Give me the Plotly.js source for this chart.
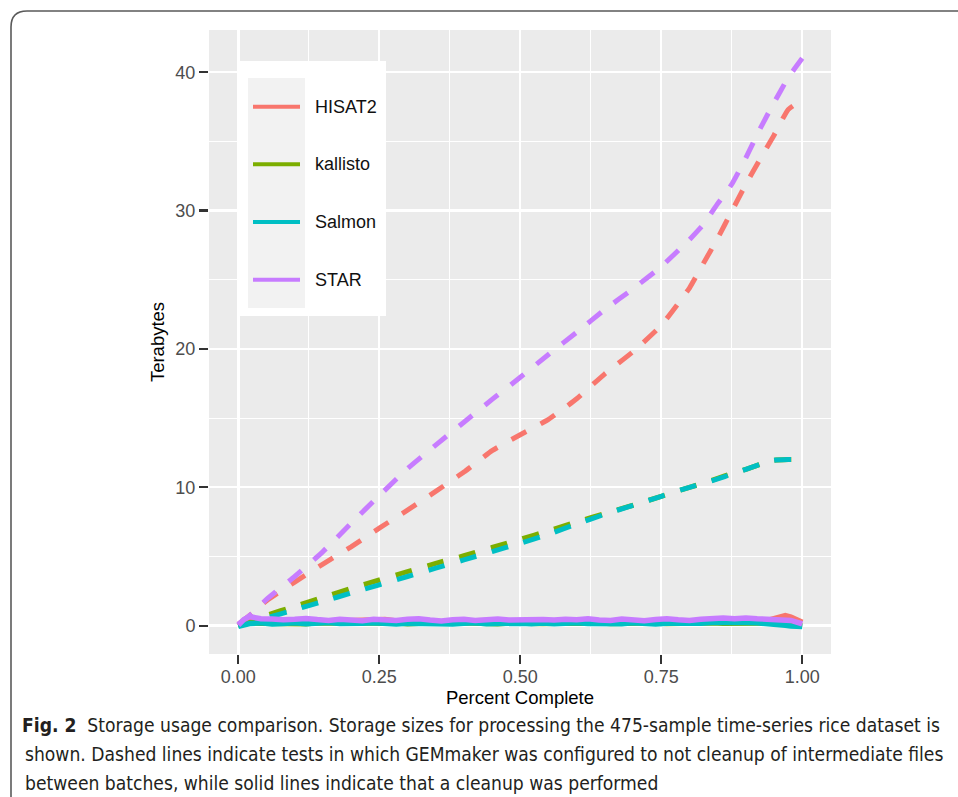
<!DOCTYPE html>
<html>
<head>
<meta charset="utf-8">
<script src="https://cdn.plot.ly/plotly-3.0.1.min.js"></script>
<style>html,body{margin:0;padding:0;background:#fff;}#chart{width:958px;height:797px;}</style>
</head>
<body>
<div id="chart"></div>
<script>
// ---------------- DATA ----------------
const seriesNames = ['HISAT2', 'kallisto', 'Salmon', 'STAR'];
const seriesColors = ['#F8766D', '#7CAE00', '#00BFC4', '#C77CFF'];

// Dashed lines: no cleanup between batches
const xDash = [0, 0.025, 0.05, 0.1, 0.15, 0.2, 0.25, 0.3, 0.35, 0.4, 0.45, 0.5, 0.55, 0.6, 0.65, 0.7, 0.75, 0.8, 0.825, 0.85, 0.875, 0.9, 0.925, 0.95, 0.975, 1.0];
const hisat2Dash   = [0.1, 0.9, 1.8, 3.15, 4.45, 5.7, 7.05, 8.35, 9.7, 11.1, 12.65, 13.8, 14.9, 16.4, 18.2, 19.8, 21.7, 24.4, 26.2, 28.0, 29.95, 31.9, 33.7, 35.45, 37.3, 38.0];
const kallistoDash = [0.05, 0.35, 0.75, 1.4, 2.05, 2.7, 3.3, 3.9, 4.5, 5.05, 5.65, 6.25, 6.85, 7.5, 8.1, 8.7, 9.35, 10.0, 10.3, 10.65, 11.0, 11.3, 11.65, 11.95, 12.0, 12.0];
const salmonDash   = [0.0, 0.25, 0.55, 1.15, 1.75, 2.35, 2.95, 3.55, 4.15, 4.75, 5.35, 5.95, 6.6, 7.35, 8.05, 8.7, 9.35, 10.0, 10.3, 10.6, 10.95, 11.3, 11.65, 11.95, 12.0, 12.0];
const starDash     = [0.1, 0.9, 1.9, 3.55, 5.35, 7.4, 9.4, 11.35, 13.05, 14.7, 16.35, 17.95, 19.6, 21.2, 22.85, 24.35, 25.95, 27.9, 29.0, 30.5, 31.9, 33.8, 35.9, 37.8, 39.6, 41.0];

// Solid lines: cleanup performed
const xSolid = [0.00, 0.01, 0.02, 0.04, 0.06, 0.08, 0.10, 0.12, 0.14, 0.16, 0.18, 0.20, 0.22, 0.24, 0.26, 0.28, 0.30, 0.32, 0.34, 0.36, 0.38, 0.40, 0.42, 0.44, 0.46, 0.48, 0.50, 0.52, 0.54, 0.56, 0.58, 0.60, 0.62, 0.64, 0.66, 0.68, 0.70, 0.72, 0.74, 0.76, 0.78, 0.80, 0.82, 0.84, 0.86, 0.88, 0.90, 0.92, 0.94, 0.96, 0.97, 0.98, 0.99, 1.00];
const hisat2Solid   = [0.0, 0.3, 0.4, 0.38, 0.32, 0.36, 0.3, 0.34, 0.38, 0.3, 0.33, 0.36, 0.3, 0.35, 0.45, 0.33, 0.3, 0.36, 0.32, 0.28, 0.34, 0.36, 0.3, 0.33, 0.37, 0.31, 0.34, 0.3, 0.36, 0.33, 0.38, 0.35, 0.4, 0.34, 0.3, 0.37, 0.34, 0.3, 0.37, 0.42, 0.36, 0.32, 0.38, 0.44, 0.42, 0.4, 0.45, 0.42, 0.4, 0.55, 0.72, 0.62, 0.45, 0.25];
const kallistoSolid = [0.0, 0.12, 0.2, 0.18, 0.15, 0.2, 0.17, 0.14, 0.2, 0.16, 0.13, 0.18, 0.2, 0.15, 0.17, 0.2, 0.14, 0.18, 0.16, 0.12, 0.18, 0.2, 0.15, 0.17, 0.13, 0.19, 0.16, 0.2, 0.15, 0.18, 0.14, 0.19, 0.17, 0.21, 0.15, 0.18, 0.13, 0.18, 0.2, 0.16, 0.19, 0.14, 0.18, 0.21, 0.17, 0.2, 0.22, 0.19, 0.2, 0.18, 0.15, 0.1, 0.05, 0.0];
const salmonSolid   = [-0.05, 0.1, 0.15, 0.2, 0.12, 0.16, 0.2, 0.13, 0.18, 0.22, 0.15, 0.12, 0.17, 0.21, 0.14, 0.12, 0.18, 0.15, 0.2, 0.14, 0.11, 0.17, 0.2, 0.13, 0.16, 0.12, 0.18, 0.14, 0.19, 0.13, 0.17, 0.21, 0.15, 0.12, 0.18, 0.14, 0.2, 0.16, 0.12, 0.18, 0.15, 0.2, 0.17, 0.22, 0.19, 0.24, 0.22, 0.2, 0.16, 0.08, 0.03, -0.02, -0.05, -0.07];
const starSolid     = [0.05, 0.45, 0.65, 0.5, 0.48, 0.42, 0.46, 0.52, 0.44, 0.38, 0.46, 0.4, 0.36, 0.46, 0.43, 0.38, 0.46, 0.5, 0.4, 0.33, 0.42, 0.46, 0.38, 0.41, 0.48, 0.4, 0.43, 0.38, 0.45, 0.4, 0.46, 0.42, 0.49, 0.41, 0.37, 0.47, 0.43, 0.35, 0.45, 0.5, 0.42, 0.38, 0.46, 0.52, 0.55, 0.5, 0.56, 0.5, 0.47, 0.48, 0.45, 0.38, 0.25, 0.12];

const xTickLabels = ['0.00', '0.25', '0.50', '0.75', '1.00'];
const yTickLabels = ['0', '10', '20', '30', '40'];
const xTitle = 'Percent Complete';
const yTitle = 'Terabytes';
const captionBold = 'Fig. 2';
const captionLines = [
  'Storage usage comparison. Storage sizes for processing the 475-sample time-series rice dataset is',
  'shown. Dashed lines indicate tests in which GEMmaker was configured to not cleanup of intermediate files',
  'between batches, while solid lines indicate that a cleanup was performed'
];

// ---------------- LAYOUT GEOMETRY ----------------
const W = 958, H = 797;
const M = {l: 209, r: 127, t: 30, b: 143};
const PW = W - M.l - M.r, PH = H - M.t - M.b;
const px2x = p => (p - M.l) / PW;
const py2y = p => (H - M.b - p) / PH;
const FONT = '"Liberation Sans", Arial, Helvetica, sans-serif';

const dashSets = [hisat2Dash, kallistoDash, salmonDash, starDash];
const solidSets = [hisat2Solid, kallistoSolid, salmonSolid, starSolid];

const traces = [];
seriesNames.forEach((n, i) => {
  traces.push({x: xDash, y: dashSets[i], type: 'scatter', mode: 'lines', name: n + ' (no cleanup)',
    showlegend: false, hoverinfo: 'skip',
    line: {color: seriesColors[i], width: 5, dash: '17px,16px', shape: 'spline', smoothing: 0.4}});
});
seriesNames.forEach((n, i) => {
  traces.push({x: xSolid, y: solidSets[i], type: 'scatter', mode: 'lines', name: n + ' (cleanup)',
    showlegend: false, hoverinfo: 'skip',
    line: {color: seriesColors[i], width: 5.5}});
});

// ---------------- CAPTION FONT FIT ----------------
function hasFont(name) {
  const c = document.createElement('canvas').getContext('2d');
  const t = 'abcdefghijklmnopqrstuvwxyzABCDEFGHIJKLMNOPQRSTUVWXYZ0123456789';
  let diff = false;
  ['monospace', 'serif'].forEach(g => {
    c.font = '72px ' + g; const a = c.measureText(t).width;
    c.font = '72px "' + name + '", ' + g; const b = c.measureText(t).width;
    if (Math.abs(a - b) > 0.5) diff = true;
  });
  return diff;
}
const capCandidates = ['Liberation Sans Narrow', 'DejaVu Sans Condensed', 'Open Sans'];
let capFam = 'Open Sans';
for (const f of capCandidates) { if (hasFont(f)) { capFam = f; break; } }
const ctx = document.createElement('canvas').getContext('2d');
ctx.font = 'bold 100px "' + capFam + '"';
const wb = ctx.measureText(captionBold).width;
ctx.font = '100px "' + capFam + '"';
const wr = ctx.measureText('\u00a0 ' + captionLines[0]).width;
const capSize = Math.min(21, 100 * (940 - 22) / (wb + wr));

// ---------------- SHAPES ----------------
const shapes = [];
// outer figure frame (rounded top-left corner)
shapes.push({type: 'path', xref: 'paper', yref: 'paper', layer: 'above',
  path: `M ${px2x(11)},${py2y(805)} L ${px2x(11)},${py2y(27)} Q ${px2x(11)},${py2y(11)} ${px2x(27)},${py2y(11)} L ${px2x(965)},${py2y(11)}`,
  line: {color: '#5a5a5a', width: 1.6}});
// legend box
shapes.push({type: 'rect', xref: 'paper', yref: 'paper', layer: 'above',
  x0: px2x(240), x1: px2x(386), y0: py2y(316), y1: py2y(61), fillcolor: '#FFFFFF', line: {width: 0}});
shapes.push({type: 'rect', xref: 'paper', yref: 'paper', layer: 'above',
  x0: px2x(248), x1: px2x(305), y0: py2y(308), y1: py2y(78), fillcolor: '#F2F2F2', line: {width: 0}});
const legY = [106.7, 164.3, 222, 279.7];
const annotations = [];
seriesNames.forEach((n, i) => {
  shapes.push({type: 'line', xref: 'paper', yref: 'paper', layer: 'above',
    x0: px2x(253), x1: px2x(300), y0: py2y(legY[i]), y1: py2y(legY[i]),
    line: {color: seriesColors[i], width: 4}});
  annotations.push({xref: 'paper', yref: 'paper', x: px2x(313), y: py2y(legY[i]), xanchor: 'left', yanchor: 'middle',
    text: n, showarrow: false, font: {family: FONT, size: 18, color: '#111'}});
});
// caption
const capBase = [731, 760, 789];
const capX = [20, 23, 23];
captionLines.forEach((t, i) => {
  annotations.push({xref: 'paper', yref: 'paper', x: px2x(capX[i]), y: py2y(capBase[i] - 0.3 * capSize),
    xanchor: 'left', yanchor: 'middle', showarrow: false, align: 'left',
    text: (i === 0 ? '<b>' + captionBold + '</b>\u00a0 ' : '') + t,
    font: {family: '"' + capFam + '", "Open Sans", sans-serif', size: capSize, color: '#231F20'}});
});

const axisCommon = {
  showline: false, zeroline: false, ticks: 'outside', ticklen: 9, tickwidth: 2.2, tickcolor: '#333333',
  tickfont: {family: FONT, size: 18, color: '#4D4D4D'},
  showgrid: true, gridcolor: '#FFFFFF', gridwidth: 2.4, fixedrange: true
};

const layout = {
  width: W, height: H, margin: M,
  paper_bgcolor: '#FFFFFF', plot_bgcolor: '#EBEBEB',
  showlegend: false,
  xaxis: Object.assign({}, axisCommon, {
    range: [-0.052, 1.051], tickmode: 'array', tickvals: [0, 0.25, 0.5, 0.75, 1], ticktext: xTickLabels,
    ticklabelstandoff: -3,
    minor: {tickmode: 'array', tickvals: [0.125, 0.375, 0.625, 0.875], showgrid: true, gridcolor: '#FFFFFF', gridwidth: 1.1, ticks: ''},
    title: {text: xTitle, font: {family: FONT, size: 18.5, color: '#000'}, standoff: 1}
  }),
  yaxis: Object.assign({}, axisCommon, {
    range: [-2.05, 43.05], tickmode: 'array', tickvals: [0, 10, 20, 30, 40], ticktext: yTickLabels,
    minor: {tickmode: 'array', tickvals: [5, 15, 25, 35], showgrid: true, gridcolor: '#FFFFFF', gridwidth: 1.1, ticks: ''},
    title: {text: yTitle, font: {family: FONT, size: 18.5, color: '#000'}, standoff: 5}
  }),
  shapes: shapes,
  annotations: annotations
};

Plotly.newPlot('chart', traces, layout, {displayModeBar: false, staticPlot: true});
</script>
</body>
</html>
